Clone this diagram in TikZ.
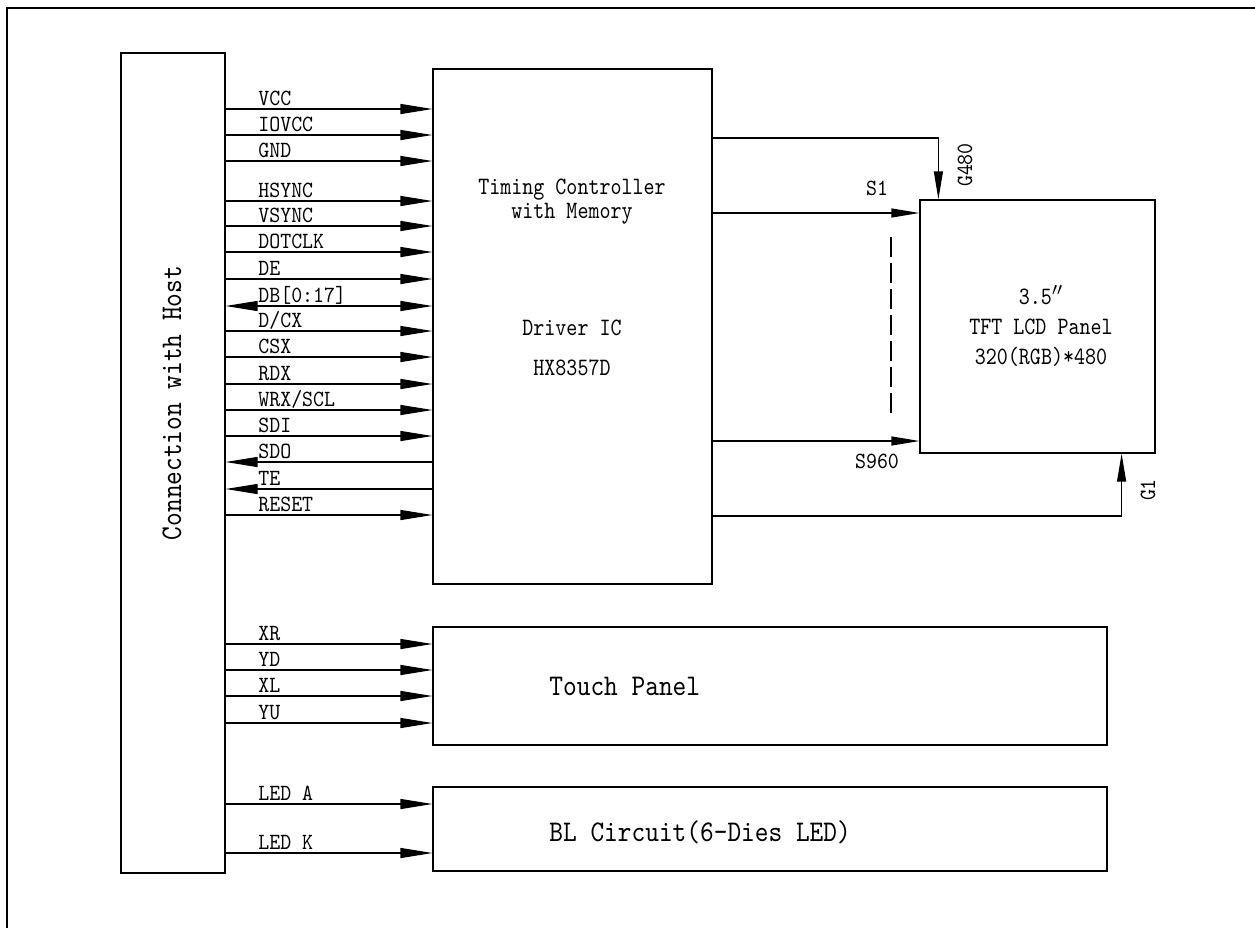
\documentclass[tikz,border=0pt]{standalone}
\usepackage{fontspec}
\usetikzlibrary{arrows.meta,positioning}
\newfontfamily\cadlab{lmmono10-regular.otf}[FakeStretch=0.9]
\newfontfamily\cadmid{lmmono10-regular.otf}[FakeStretch=0.84]
\newfontfamily\cadbig{lmmono10-regular.otf}[FakeStretch=0.87]

\begin{document}
\begin{tikzpicture}[x=0.5pt,y=-0.5pt,>={Triangle[length=16pt,width=5pt]},
  blk/.style={draw,line width=0.6pt,inner sep=0pt},
  sig/.style={line width=0.6pt},
  sigr/.style={-{Triangle[length=14pt,width=4.5pt]},line width=0.6pt},
  lab/.style={anchor=base west,inner sep=0pt,font=\cadlab\fontsize{11.6}{11.6}\selectfont},
  mid/.style={font=\cadmid\fontsize{12.5}{12.5}\selectfont},
  big/.style={font=\cadbig\fontsize{15}{15}\selectfont}]
\useasboundingbox (0,0) rectangle (1255,928);
\draw[line width=1.4pt] (7,928) -- (7,8) -- (1255,8);

% blocks
\node[blk,minimum width=52pt,minimum height=410pt] (host) at (173,463) {};
\node[blk,minimum width=139.5pt,minimum height=257.5pt] (drv) at (572.5,326.5) {};
\node[blk,minimum width=117.5pt,minimum height=126.5pt] (lcd) at (1037.5,326.5) {};
\node[blk,minimum width=337pt,minimum height=59pt] (touch) at (770,686) {};
\node[blk,minimum width=337pt,minimum height=42pt] (bl) at (770,829) {};

\node[big,rotate=90] (hostlab) at (172,403) {Connection with Host};
\node[mid,anchor=base] (tcon) at (572,194) {Timing Controller};
\node[mid,anchor=base] (tmem) at (572,218) {with Memory};
\node[mid] (drvic) at (572,328) {Driver IC};
\node[mid] (drvpn) at (572,368) {HX8357D};
\node[mid,align=center,font=\cadmid\fontsize{12.5}{15}\selectfont] (lcdlab) at (1041,326) {3.5$''$\\TFT LCD Panel\\320(RGB)*480};
\node[big,anchor=west,inner sep=0pt] (touchlab) at (549,686) {Touch Panel};
\node[big,anchor=west,inner sep=0pt] (bllab) at (549,832) {BL Circuit(6-Dies LED)};

% host -> driver
\foreach \y/\t in {109/VCC,135/IOVCC,161/GND,201/HSYNC,226/VSYNC,252/DOTCLK,279/DE,
    331/{D/CX},357/CSX,384/RDX,410/{WRX/SCL},436/SDI,515/RESET}{
  \draw[sig,->] (host.east |- 0,\y) -- (drv.west |- 0,\y);
  \node[lab] (l\y) at (258,\y-4) {\t};
}
\draw[sig,<->] (host.east |- 0,306) -- (drv.west |- 0,306);
\node[lab] (l306) at (258,302) {DB[0:17]};
\foreach \y/\t in {462/SDO,489/TE}{
  \draw[sig,<-] (host.east |- 0,\y) -- (drv.west |- 0,\y);
  \node[lab] (l\y) at (258,\y-4) {\t};
}

% host -> touch panel, backlight
\foreach \y/\t in {644/XR,670/YD,696/XL,723/YU,804/LED A,853/LED K}{
  \draw[sig,->] (host.east |- 0,\y) -- (touch.west |- 0,\y);
  \node[lab] (l\y) at (258,\y-4) {\t};
}

% driver -> panel
\draw[sigr] (drv.east |- 0,138) -| ([xshift=9.5pt]lcd.north west);
\draw[sigr] (drv.east |- 0,213) -- (lcd.west |- 0,213);
\draw[sigr] (drv.east |- 0,441) -- (lcd.west |- 0,441);
\draw[sigr] (drv.east |- 0,516) -| ([xshift=-17pt]lcd.south east);
\draw[line width=0.9pt,dash pattern=on 10pt off 3pt] (891,237) -- (891,419);
\node[lab,anchor=center] (s1) at (877,188) {S1};
\node[lab,anchor=center] (s960) at (877,461) {S960};
\node[lab,anchor=center,rotate=90] (g480) at (965,165) {G480};
\node[lab,anchor=center,rotate=90] (g1) at (1148,490) {G1};
\end{tikzpicture}
\end{document}
